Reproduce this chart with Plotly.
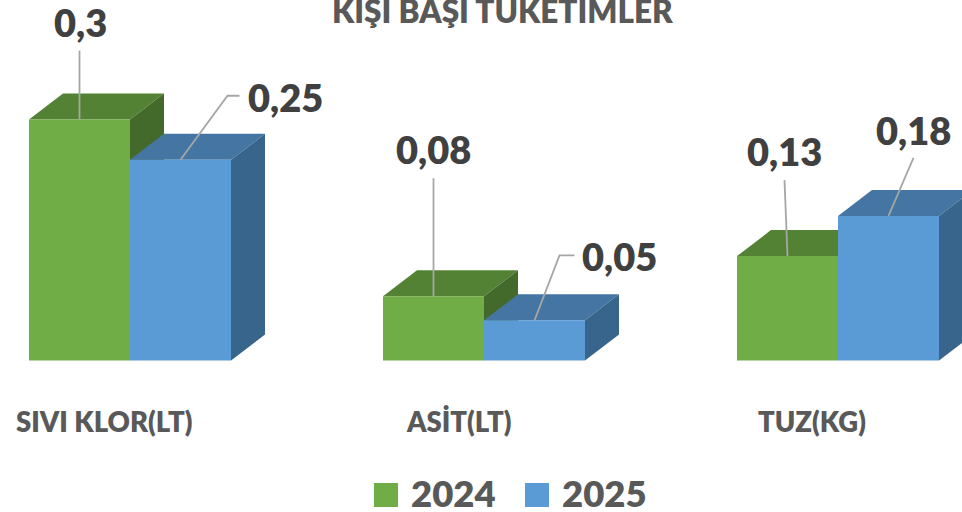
import plotly.graph_objects as go

# --- data ---
categories = ["SIVI KLOR(LT)", "ASİT(LT)", "TUZ(KG)"]
series_names = ["2024", "2025"]
values_2024 = [0.30, 0.08, 0.13]
values_2025 = [0.25, 0.05, 0.18]
value_labels_2024 = ["0,3", "0,08", "0,13"]
value_labels_2025 = ["0,25", "0,05", "0,18"]
title_text = "KİŞİ BAŞI TÜKETİMLER"

# --- style / layout ---
W, H = 962, 512
FONT = "Lato"
WEIGHT = 800
GREEN, GREEN_TOP, GREEN_SIDE = "#70AD47", "#548235", "#436A2A"
BLUE, BLUE_TOP, BLUE_SIDE = "#5B9BD5", "#4575A2", "#38658B"
LEADER = "#A6A6A6"

PX_PER_CAT = 354.0
PX_PER_VAL = 803.0
X0_PX, Y0_PX = 130.0, 360.5
BAR_PX = 101.0
DEPTH_X, DEPTH_Y = 34.0, 26.0

dx = lambda px: px / PX_PER_CAT
dy = lambda px: px / PX_PER_VAL

bar_w = dx(BAR_PX)
depth_x, depth_y = dx(DEPTH_X), dy(DEPTH_Y)

# leader line bends and label centres, in pixels from the bar's top centre
leaders_2024 = [[(0, 69)], [(0, 118)], [(-3, 76)]]
leaders_2025 = [[(47, 64), (59, 64)], [(25, 65), (40, 65)], [(25, 58)]]
label_off_2024 = [(0.5, 98), (0, 147), (-3.5, 105)]
label_off_2025 = [(104.5, 63), (84.5, 64), (24.5, 86)]

x_pos = list(range(len(categories)))
fig = go.Figure()

fig.add_trace(go.Bar(x=x_pos, y=values_2024, offset=-bar_w, width=bar_w, name=series_names[0],
                     marker=dict(color=GREEN, line=dict(width=0)), showlegend=False, hoverinfo="skip"))
fig.add_trace(go.Bar(x=x_pos, y=values_2025, offset=0, width=bar_w, name=series_names[1],
                     marker=dict(color=BLUE, line=dict(width=0)), showlegend=False, hoverinfo="skip"))

# 3D faces are derived from the values
shapes = []


def poly(pts, color):
    path = "M " + " L ".join(f"{x},{y}" for x, y in pts) + " Z"
    return dict(type="path", path=path, xref="x", yref="y", fillcolor=color,
                line=dict(width=0), layer="below")


for i in x_pos:
    for vals, left, top_c, side_c in ((values_2024, i - bar_w, GREEN_TOP, GREEN_SIDE),
                                      (values_2025, i, BLUE_TOP, BLUE_SIDE)):
        v = vals[i]
        right = left + bar_w
        shapes.append(poly([(left, v), (left + depth_x, v + depth_y),
                            (right + depth_x, v + depth_y), (right, v)], top_c))
        shapes.append(poly([(right, 0), (right + depth_x, depth_y),
                            (right + depth_x, v + depth_y), (right, v)], side_c))

annotations = []
for vals, texts, center_shift, leaders, offs in (
    (values_2024, value_labels_2024, -bar_w / 2, leaders_2024, label_off_2024),
    (values_2025, value_labels_2025, bar_w / 2, leaders_2025, label_off_2025),
):
    for i in x_pos:
        cx = i + center_shift
        xs = [cx] + [cx + dx(p[0]) for p in leaders[i]]
        ys = [vals[i]] + [vals[i] + dy(p[1]) for p in leaders[i]]
        fig.add_trace(go.Scatter(x=xs, y=ys, mode="lines", line=dict(color=LEADER, width=1.8),
                                 showlegend=False, hoverinfo="skip"))
        annotations.append(dict(x=cx + dx(offs[i][0]), y=vals[i] + dy(offs[i][1]), text=texts[i],
                                showarrow=False, xanchor="center", yanchor="middle",
                                font=dict(family=FONT, size=38, color="#404040", weight=WEIGHT)))

# category labels
for i, cat in zip(x_pos, categories):
    annotations.append(dict(x=i + dx(-26), y=dy(Y0_PX - 421), text=cat, showarrow=False,
                            xanchor="center", yanchor="middle",
                            font=dict(family=FONT, size=27.5, color="#595959", weight=WEIGHT)))

# title, clipped by the page top as in the reference
annotations.append(dict(x=502.5 / W, y=1 - 11 / H, xref="paper", yref="paper", text=title_text,
                        showarrow=False, xanchor="center", yanchor="middle",
                        font=dict(family=FONT, size=31.5, color="#595959", weight=WEIGHT)))

# legend drawn as squares and labels (the built-in legend caps its symbol size)
LEG_SQUARE_X = [374, 525]
LEG_TEXT_X = [409, 560]
LEG_SIZE = 24
LEG_Y = 495
LEG_TEXT_Y = 493
for name, color, sx, tx in zip(series_names, (GREEN, BLUE), LEG_SQUARE_X, LEG_TEXT_X):
    shapes.append(dict(type="rect", xref="paper", yref="paper",
                       x0=sx / W, x1=(sx + LEG_SIZE) / W,
                       y0=1 - (LEG_Y + LEG_SIZE / 2) / H, y1=1 - (LEG_Y - LEG_SIZE / 2) / H,
                       fillcolor=color, line=dict(width=0)))
    annotations.append(dict(x=tx / W, y=1 - LEG_TEXT_Y / H, xref="paper", yref="paper", text=name,
                            showarrow=False, xanchor="left", yanchor="middle",
                            font=dict(family=FONT, size=36.5, color="#595959", weight=WEIGHT)))

fig.update_layout(
    width=W, height=H, autosize=False, margin=dict(l=0, r=0, t=0, b=0),
    paper_bgcolor="white", plot_bgcolor="white", barmode="overlay",
    xaxis=dict(range=[-X0_PX / PX_PER_CAT, (W - X0_PX) / PX_PER_CAT], visible=False, fixedrange=True),
    yaxis=dict(range=[(Y0_PX - H) / PX_PER_VAL, Y0_PX / PX_PER_VAL], visible=False, fixedrange=True),
    shapes=shapes, annotations=annotations,
    showlegend=False,
)

fig.write_html("out.html", config={"displayModeBar": False},
               post_script="document.body.style.margin='0';document.documentElement.style.overflow='hidden';")
